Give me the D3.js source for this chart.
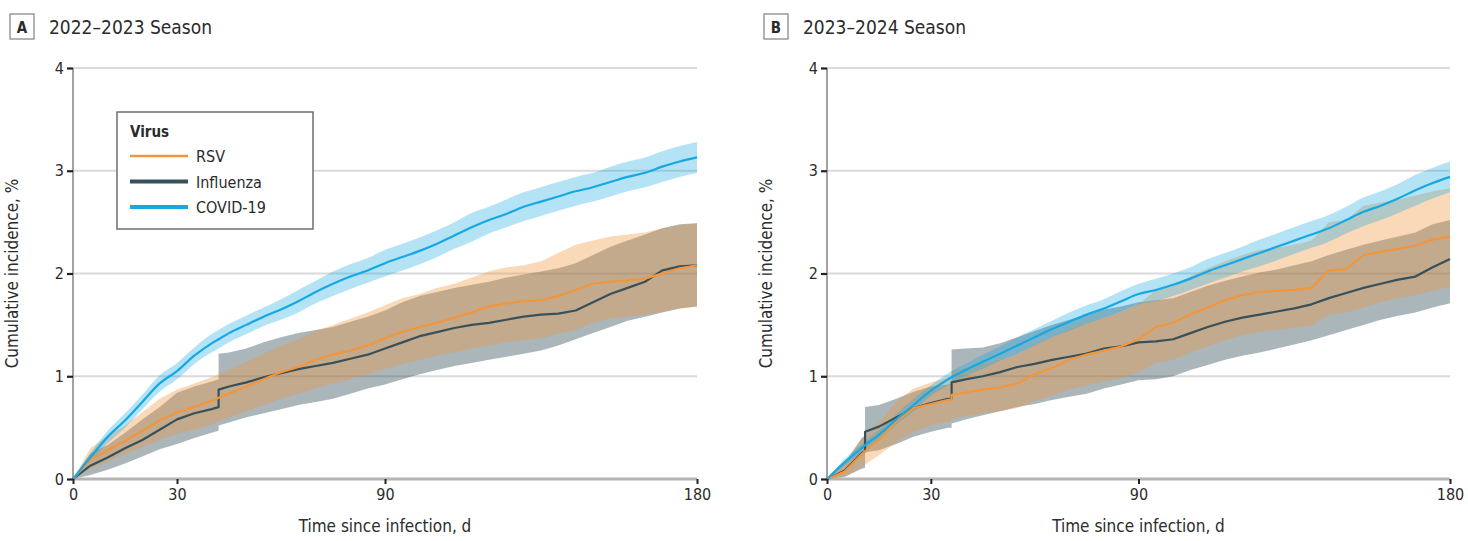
<!DOCTYPE html>
<html>
<head>
<meta charset="utf-8">
<script src="https://cdn.jsdelivr.net/npm/d3@7"></script>
<style>
  html, body { margin: 0; padding: 0; background: #fff; }
  svg { display: block; }
  text { font-family: "Liberation Sans Narrow", "DejaVu Sans Condensed", "Roboto Condensed", sans-serif; fill: #2b2b2b; }
</style>
</head>
<body>
<svg id="chart" width="1468" height="541"></svg>
<script>
// Follow-up days for each season; a repeated day marks a vertical jump in the estimate
const daysA = [0,5,10,15,20,25,30,35,40,42,42,45,50,55,60,65,70,75,80,85,90,95,100,105,110,115,120,125,130,135,140,145,150,155,160,165,170,175,180];
const daysB = [0,5,10,11,11,15,20,25,30,35,36,36,40,45,50,55,60,65,70,75,80,85,90,95,100,105,110,115,120,125,130,135,140,145,150,155,160,165,170,175,180];

const xTicks = [0, 30, 90, 180];
const yTicks = [0, 1, 2, 3, 4];

const virusNames = ["RSV", "Influenza", "COVID-19"];
const virusColors = ["#F1963D", "#37505A", "#16A8E3"];

// 2022-2023 season: cumulative incidence (%) with 95% CI
const covidA    = [0,0.21,0.41,0.57,0.75,0.93,1.05,1.20,1.32,1.36,1.36,1.42,1.50,1.58,1.65,1.73,1.82,1.90,1.97,2.03,2.10,2.16,2.22,2.29,2.37,2.45,2.52,2.58,2.65,2.70,2.75,2.80,2.84,2.89,2.94,2.98,3.04,3.09,3.13];
const covidALow = [0,0.17,0.35,0.50,0.68,0.85,0.97,1.12,1.23,1.27,1.27,1.33,1.41,1.49,1.55,1.62,1.71,1.78,1.85,1.91,1.97,2.03,2.09,2.16,2.24,2.31,2.39,2.45,2.51,2.56,2.61,2.66,2.70,2.75,2.80,2.84,2.89,2.94,2.98];
const covidAUp  = [0,0.25,0.47,0.64,0.82,1.01,1.13,1.28,1.41,1.45,1.45,1.51,1.59,1.67,1.75,1.84,1.93,2.02,2.09,2.15,2.23,2.29,2.35,2.42,2.50,2.59,2.65,2.72,2.79,2.84,2.89,2.94,2.98,3.04,3.09,3.13,3.19,3.24,3.28];

const rsvA    = [0,0.19,0.28,0.37,0.47,0.57,0.65,0.70,0.76,0.79,0.79,0.83,0.90,0.97,1.04,1.09,1.16,1.21,1.25,1.30,1.37,1.43,1.48,1.52,1.57,1.62,1.68,1.71,1.73,1.74,1.78,1.84,1.90,1.92,1.93,1.95,2.00,2.05,2.08];
const rsvALow = [0,0.10,0.17,0.24,0.31,0.38,0.44,0.48,0.53,0.56,0.56,0.60,0.66,0.72,0.78,0.83,0.88,0.93,0.97,1.02,1.07,1.12,1.16,1.20,1.23,1.27,1.30,1.33,1.35,1.37,1.41,1.45,1.52,1.56,1.58,1.60,1.63,1.66,1.68];
const rsvAUp  = [0,0.30,0.42,0.52,0.65,0.78,0.87,0.93,0.99,1.02,1.02,1.06,1.14,1.22,1.30,1.36,1.44,1.50,1.56,1.62,1.69,1.76,1.80,1.86,1.90,1.96,2.02,2.06,2.08,2.12,2.20,2.28,2.32,2.36,2.38,2.40,2.44,2.47,2.49];

const fluA    = [0,0.13,0.21,0.30,0.38,0.48,0.58,0.64,0.68,0.70,0.87,0.90,0.94,0.99,1.03,1.07,1.10,1.13,1.17,1.21,1.27,1.33,1.39,1.43,1.47,1.50,1.52,1.55,1.58,1.60,1.61,1.64,1.72,1.80,1.86,1.92,2.03,2.07,2.08];
const fluALow = [0,0.04,0.09,0.15,0.22,0.29,0.34,0.40,0.45,0.47,0.52,0.55,0.60,0.64,0.68,0.72,0.75,0.78,0.83,0.88,0.92,0.97,1.02,1.06,1.10,1.13,1.16,1.19,1.22,1.25,1.30,1.36,1.42,1.48,1.54,1.58,1.62,1.66,1.68];
const fluAUp  = [0,0.25,0.33,0.45,0.58,0.70,0.84,0.90,0.95,0.97,1.22,1.23,1.27,1.33,1.38,1.42,1.45,1.48,1.53,1.58,1.64,1.72,1.78,1.82,1.86,1.89,1.92,1.96,1.99,2.02,2.05,2.10,2.18,2.26,2.32,2.38,2.44,2.48,2.49];

// 2023-2024 season: cumulative incidence (%) with 95% CI
const covidB    = [0,0.16,0.30,0.33,0.33,0.43,0.58,0.72,0.86,0.97,0.99,0.99,1.06,1.14,1.22,1.30,1.38,1.46,1.53,1.60,1.66,1.73,1.80,1.84,1.89,1.95,2.02,2.08,2.14,2.20,2.26,2.32,2.38,2.44,2.52,2.60,2.66,2.73,2.81,2.88,2.94];
const covidBLow = [0,0.13,0.26,0.29,0.29,0.38,0.53,0.66,0.81,0.91,0.93,0.93,1.00,1.07,1.15,1.22,1.30,1.38,1.44,1.51,1.57,1.63,1.70,1.73,1.78,1.84,1.90,1.96,2.02,2.07,2.13,2.19,2.25,2.31,2.39,2.46,2.52,2.59,2.66,2.73,2.79];
const covidBUp  = [0,0.19,0.34,0.37,0.37,0.48,0.63,0.78,0.91,1.03,1.05,1.05,1.12,1.21,1.29,1.38,1.46,1.54,1.62,1.69,1.75,1.83,1.90,1.95,2.00,2.06,2.14,2.20,2.26,2.33,2.39,2.45,2.51,2.57,2.65,2.74,2.80,2.87,2.96,3.03,3.09];

const rsvB    = [0,0.07,0.24,0.27,0.27,0.38,0.56,0.69,0.73,0.77,0.77,0.82,0.84,0.87,0.89,0.93,1.02,1.08,1.16,1.21,1.25,1.29,1.36,1.48,1.52,1.60,1.67,1.74,1.79,1.82,1.83,1.84,1.86,2.03,2.04,2.18,2.21,2.24,2.27,2.33,2.36];
const rsvBLow = [0,0.02,0.12,0.14,0.14,0.23,0.36,0.46,0.52,0.56,0.57,0.59,0.61,0.64,0.66,0.69,0.76,0.81,0.87,0.91,0.95,0.98,1.04,1.13,1.16,1.23,1.29,1.35,1.40,1.43,1.45,1.47,1.49,1.60,1.62,1.67,1.72,1.76,1.79,1.83,1.87];
const rsvBUp  = [0,0.15,0.38,0.41,0.41,0.55,0.75,0.88,0.94,0.99,1.00,1.05,1.08,1.12,1.16,1.21,1.31,1.38,1.46,1.52,1.57,1.62,1.70,1.84,1.89,1.97,2.05,2.12,2.18,2.23,2.25,2.28,2.32,2.50,2.52,2.66,2.69,2.72,2.76,2.80,2.83];

const fluB    = [0,0.08,0.25,0.27,0.46,0.51,0.60,0.69,0.74,0.78,0.78,0.94,0.97,1.00,1.04,1.09,1.12,1.16,1.19,1.22,1.27,1.29,1.33,1.34,1.36,1.42,1.48,1.53,1.57,1.60,1.63,1.66,1.70,1.76,1.81,1.86,1.90,1.94,1.97,2.06,2.14];
const fluBLow = [0,0.02,0.10,0.11,0.26,0.28,0.34,0.41,0.46,0.50,0.50,0.54,0.58,0.62,0.66,0.70,0.73,0.77,0.80,0.83,0.88,0.92,0.96,0.97,1.00,1.06,1.11,1.16,1.20,1.23,1.27,1.31,1.35,1.40,1.45,1.50,1.55,1.59,1.62,1.67,1.71];
const fluBUp  = [0,0.15,0.40,0.42,0.70,0.72,0.78,0.85,0.90,0.92,0.93,1.26,1.27,1.28,1.32,1.38,1.44,1.50,1.55,1.60,1.65,1.68,1.72,1.74,1.76,1.82,1.88,1.93,1.97,2.01,2.04,2.08,2.12,2.18,2.23,2.28,2.32,2.36,2.40,2.48,2.52];

const panels = [
  { letter: "A", title: "2022\u20132023 Season", left: 73, right: 697, days: daysA,
    series: [
      { name: "Influenza", est: fluA, lo: fluALow, hi: fluAUp },
      { name: "RSV", est: rsvA, lo: rsvALow, hi: rsvAUp },
      { name: "COVID-19", est: covidA, lo: covidALow, hi: covidAUp, smooth: true }
    ], legend: true },
  { letter: "B", title: "2023\u20132024 Season", left: 827, right: 1450, days: daysB,
    series: [
      { name: "Influenza", est: fluB, lo: fluBLow, hi: fluBUp },
      { name: "RSV", est: rsvB, lo: rsvBLow, hi: rsvBUp },
      { name: "COVID-19", est: covidB, lo: covidBLow, hi: covidBUp, smooth: true }
    ], legend: false }
];

const color = d3.scaleOrdinal().domain(virusNames).range(virusColors);
const bandOpacity = { "RSV": 0.36, "Influenza": 0.42, "COVID-19": 0.32 };

const svg = d3.select("#chart");
const plotTop = 68, plotBottom = 479;
const fontStack = "'Liberation Sans Narrow','DejaVu Sans Condensed',sans-serif";

panels.forEach(p => {
  const x = d3.scaleLinear().domain([0, 180]).range([p.left, p.right]);
  const y = d3.scaleLinear().domain([0, 4]).range([plotBottom, plotTop]);
  const g = svg.append("g");

  // rows of the series; smooth curves skip the repeated jump days
  const rowsFor = s => p.days.map((d, i) => ({ day: d, est: s.est[i], lo: s.lo[i], hi: s.hi[i] }))
    .filter((r, i) => !s.smooth || i === 0 || p.days[i] !== p.days[i - 1]);

  // panel heading with boxed letter
  const hx = p.left - 63;
  g.append("rect").attr("x", hx).attr("y", 14).attr("width", 24).attr("height", 25)
    .attr("fill", "#fff").attr("stroke", "#8a8a8a").attr("stroke-width", 1.3);
  g.append("text").attr("x", hx + 12).attr("y", 32.5).attr("text-anchor", "middle")
    .style("font-size", "15px").style("font-weight", "bold").text(p.letter);
  g.append("text").attr("x", hx + 39).attr("y", 33.5)
    .style("font-size", "19px").text(p.title);

  // horizontal gridlines
  g.append("g").selectAll("line").data(yTicks.filter(d => d > 0)).join("line")
    .attr("x1", x(0)).attr("x2", x(180)).attr("y1", d => y(d)).attr("y2", d => y(d))
    .attr("stroke", "#dadada").attr("stroke-width", 2);

  // confidence bands
  p.series.forEach(s => {
    const area = d3.area()
      .x(r => x(r.day)).y0(r => y(r.lo)).y1(r => y(r.hi))
      .curve(s.smooth ? d3.curveMonotoneX : d3.curveLinear);
    g.append("path").datum(rowsFor(s)).attr("d", area)
      .attr("fill", color(s.name)).attr("fill-opacity", bandOpacity[s.name]);
  });

  // x axis baseline
  g.append("line").attr("x1", x(0)).attr("x2", x(180)).attr("y1", plotBottom).attr("y2", plotBottom)
    .attr("stroke", "#b4b4b4").attr("stroke-width", 3);

  // estimate lines
  p.series.forEach(s => {
    const line = d3.line()
      .x(r => x(r.day)).y(r => y(r.est))
      .curve(s.smooth ? d3.curveMonotoneX : d3.curveLinear);
    g.append("path").datum(rowsFor(s)).attr("d", line)
      .attr("fill", "none").attr("stroke", color(s.name)).attr("stroke-width", 2.2)
      .attr("stroke-linejoin", "round");
  });

  // y axis
  const yAxis = g.append("g").attr("transform", `translate(${x(0)},0)`)
    .call(d3.axisLeft(y).tickValues(yTicks).tickFormat(d3.format("d")).tickSize(6).tickPadding(3));
  yAxis.select(".domain").attr("stroke", "#8c8c8c").attr("stroke-width", 1.6)
    .attr("d", `M0,${plotTop}V${plotBottom}`);
  yAxis.selectAll(".tick line").attr("stroke", "#222").attr("stroke-width", 2.2);
  yAxis.selectAll(".tick text").style("font-size", "16px").attr("fill", "#222")
    .style("font-family", fontStack);

  // x axis
  const xAxis = g.append("g").attr("transform", `translate(0,${plotBottom})`)
    .call(d3.axisBottom(x).tickValues(xTicks).tickSize(5).tickPadding(5));
  xAxis.select(".domain").remove();
  xAxis.selectAll(".tick line").attr("stroke", "#222").attr("stroke-width", 2);
  xAxis.selectAll(".tick text").style("font-size", "16px").attr("fill", "#222")
    .style("font-family", fontStack);

  // axis titles
  g.append("text").attr("x", (x(0) + x(180)) / 2).attr("y", 532).attr("text-anchor", "middle")
    .style("font-size", "17px").text("Time since infection, d");
  g.append("text").attr("transform", `translate(${x(0) - 55},${(plotTop + plotBottom) / 2}) rotate(-90)`)
    .attr("text-anchor", "middle").style("font-size", "17px").text("Cumulative incidence, %");

  // legend
  if (p.legend) {
    const lg = g.append("g").attr("transform", "translate(117,112)");
    lg.append("rect").attr("width", 196).attr("height", 117)
      .attr("fill", "#fff").attr("stroke", "#6e6e6e").attr("stroke-width", 1.5);
    lg.append("text").attr("x", 13).attr("y", 25).style("font-size", "15px")
      .style("font-weight", "600").attr("fill", "#333").text("Virus");
    virusNames.forEach((n, i) => {
      const yy = 44 + i * 25.5;
      lg.append("line").attr("x1", 13).attr("x2", 71).attr("y1", yy).attr("y2", yy)
        .attr("stroke", color(n)).attr("stroke-width", n === "RSV" ? 2.5 : 4);
      lg.append("text").attr("x", 79).attr("y", yy + 6).style("font-size", "16px").text(n);
    });
  }
});
</script>
</body>
</html>
